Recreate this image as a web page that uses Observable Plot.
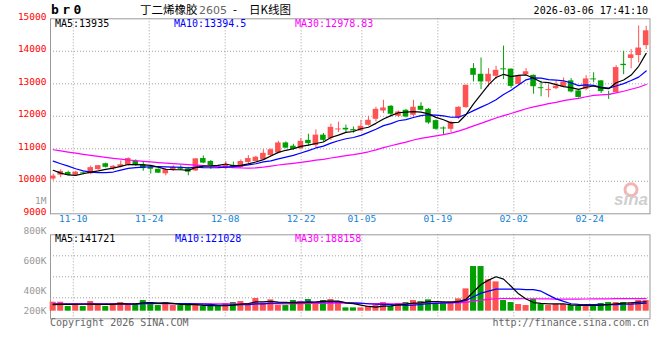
<!DOCTYPE html>
<html><head><meta charset="utf-8">
<script src="https://cdn.jsdelivr.net/npm/d3@7"></script>
<script src="https://cdn.jsdelivr.net/npm/@observablehq/plot@0.6"></script>
<style>
body{margin:0;background:#fff;}
#chart{position:relative;width:660px;height:360px;overflow:hidden;background:#fff;font-family:"DejaVu Sans Mono",monospace;}
#chart svg{position:absolute;left:0;overflow:visible;}
.t{position:absolute;white-space:pre;line-height:1;font-size:10px;}
</style></head><body><div id="chart"></div>
<script>
// ---------- data ----------
const dates = ["11-05","11-06","11-07","11-10","11-11","11-12","11-13","11-14","11-17","11-18","11-19","11-20","11-21","11-24","11-25","11-26","11-27","11-28",
"12-01","12-02","12-03","12-04","12-05","12-08","12-09","12-10","12-11","12-12","12-15","12-16","12-17","12-18","12-19","12-22","12-23","12-24","12-25","12-26","12-29","12-30","12-31",
"01-05","01-06","01-07","01-08","01-09","01-12","01-13","01-14","01-15","01-16","01-19","01-20","01-21","01-22","01-23","01-26","01-27","01-28","01-29","01-30",
"02-02","02-03","02-04","02-05","02-06","02-09","02-10","02-11","02-12","02-13","02-24","02-25","02-26","02-27",
"03-02","03-03","03-04","03-05","03-06"];
const open = [10070,10190,10270,10190,10260,10230,10360,10540,10400,10450,10490,10610,10510,10430,10370,10230,10340,10430,10380,10320,
10700,10610,10470,10400,10490,10420,10580,10610,10660,10790,10870,11180,11080,11000,11260,11100,11420,11320,11580,11630,
11590,11549,11723,11908,12164,12308,12000,12185,12031,12308,12215,11867,11640,11600,11949,12267,13467,13293,13057,13231,
13460,13450,12980,13280,13260,12880,12790,12850,12910,13090,12780,12830,13150,13090,12660,12730,13600,13780,13870,14174];
const high = [10220,10350,10310,10310,10290,10470,10490,10560,10490,10630,10720,10660,10610,10480,10380,10390,10480,10480,10430,10700,
10780,10640,10500,10610,10590,10660,10790,10770,10970,11000,11230,11210,11140,11320,11450,11580,11470,11760,11820,11730,
11670,11877,12000,12277,12492,12330,12164,12215,12492,12420,12236,11887,11672,11846,12290,12960,13621,13796,13467,13539,
14160,13460,13260,13470,13270,13080,12970,13080,13180,13160,12790,13250,13340,13100,12770,13560,14000,14050,14780,14770];
const low = [10010,10110,10170,10160,10200,10200,10340,10410,10330,10410,10470,10460,10310,10220,10240,10170,10310,10330,10170,10300,
10540,10370,10410,10360,10390,10400,10520,10590,10640,10760,10850,11000,10950,10970,11080,11020,11210,11260,11500,11480,
11480,11538,11700,11826,12082,11980,11959,11950,11980,12164,11754,11569,11415,11497,11908,12250,13057,12821,12903,13129,
13130,12860,12950,13250,12680,12600,12570,12820,12880,12720,12560,12790,13030,12700,12520,12720,13280,13460,13640,14051];
const close = [10160,10300,10190,10280,10230,10420,10480,10430,10460,10510,10700,10480,10390,10370,10250,10360,10430,10370,10280,10690,
10560,10470,10440,10500,10420,10610,10700,10740,10860,10970,11180,11020,10980,11230,11160,11420,11260,11660,11610,11580,
11550,11692,11877,12215,12256,12062,12133,11980,12277,12185,11795,11600,11610,11805,12277,12954,13262,13057,13293,13416,
13430,12920,13230,13370,12910,12850,12820,12925,13060,12750,12580,13150,13120,12760,12640,13500,13560,13890,14100,14630];
const ma5 = [10340,10250,10195,10185,10232,10284,10320,10368,10404,10460,10516,10516,10508,10490,10438,10370,10360,10356,10338,10426,
10466,10474,10488,10532,10478,10488,10534,10594,10666,10776,10890,10954,11002,11076,11114,11162,11210,11346,11422,11506,
11532,11618,11662,11783,11918,12020,12109,12129,12142,12127,12074,11967,11893,11799,11817,12049,12382,12671,12969,13196,
13292,13223,13258,13273,13172,13056,13036,12975,12913,12881,12827,12893,12932,12872,12850,13034,13116,13270,13538,13935];
const ma10 = [10620,10540,10465,10385,10320,10285,10268,10265,10285,10346,10400,10418,10438,10447,10449,10443,10438,10432,10414,10432,
10418,10417,10422,10435,10452,10477,10504,10541,10599,10627,10689,10744,10798,10871,10945,11026,11082,11174,11249,11310,
11347,11414,11504,11602,11712,11776,11864,11896,11962,12023,12047,12038,12011,11970,11972,12062,12175,12282,12384,12507,
12670,12802,12964,13121,13184,13174,13130,13116,13093,13027,12942,12965,12954,12893,12866,12931,13005,13101,13205,13394.5];
const ma30 = [10970,10935,10900,10865,10830,10800,10765,10735,10705,10680,10655,10635,10615,10595,10575,10558,10542,10528,10512,10498,
10482,10466,10450,10435,10422,10412,10408,10412,10435,10468,10502,10526,10553,10584,10615,10649,10675,10716,10754,10790,
10818,10858,10908,10969,11036,11093,11150,11204,11270,11320,11361,11399,11438,11481,11543,11621,11707,11784,11865,11947,
12022,12085,12160,12231,12290,12337,12389,12431,12480,12519,12553,12602,12643,12661,12674,12722,12770,12833,12894,12978.83];
// volume, thousands of lots
const volumeK = [135,135,70,110,70,145,110,70,115,130,115,115,160,130,85,130,85,85,115,85,
70,70,70,115,130,145,115,190,120,170,90,85,160,145,175,110,160,175,135,50,
50,50,70,85,130,70,115,130,160,145,170,110,125,140,185,335,670,670,470,440,
160,130,100,85,175,100,85,100,100,85,70,85,100,115,130,130,130,130,160,160];
const volMa5K = [100,102,103,104,104,106,101,101,102,114,108,109,127,130,121,124,118,103,100,100,
88,85,82,82,91,106,115,139,140,148,137,131,125,130,131,135,150,153,151,126,
114,92,71,61,77,81,94,106,121,124,144,143,142,138,146,179,291,400,466,517,
482,374,260,183,130,118,109,109,112,94,88,88,88,91,100,112,121,127,136,141.721];
const volMa10K = [106,106,107,107,108,108,108,108,108,109,107,105,114,116,117.5,116,113.5,115,115,110.5,
106,101.5,92.5,91,95.5,97,100,110.5,111,119.5,121.5,123,132,135,139.5,136,140.5,139,140.5,128.5,
124.5,121,112,106,101.5,97.5,93,88.5,91,100.5,112.5,118.5,124,129.5,135,161.5,217,271,302,331.5,
330.5,332.5,330,324.5,323.5,300,241.5,184.5,147.5,112,103,98.5,98.5,101.5,97,100,104.5,107.5,113.5,121.028];
const volMa30K = [112,112,112,112,112,112,112,112,112,112,112,112,112,112,112,112,112,112,112,112,
112,112,112,112,112,112,112,112,112,113,111.5,109.8,112.8,114,117.5,116.3,118,121.5,122.2,119.5,
117.3,115.2,112.2,110.7,112.2,110.2,111.2,112.7,114.2,116.2,119.5,120.8,122.7,123.5,125.3,131.7,150.2,166.2,177.8,186.8,
189.2,190.7,188.7,186.7,186.7,186.3,183.8,181.3,180.2,181.3,182,183.2,184.2,185.2,185.2,187.2,187.7,187.7,187.7,188.158];

const tickDates = ["11-10","11-24","12-08","12-22","01-05","01-19","02-02","02-24"];
const priceTicks = [9000,10000,11000,12000,13000,14000,15000];
const priceGrid = [10000,11000,12000,13000,14000];
const volGridK = [201,516,831];
const volLabels = ["1M","800K","600K","400K","200K"];
const volLabelAtK = [1660,1200,750,306,10];

const title = {code:"b r 0", name:"丁二烯橡胶", contract:"2605", sep:"-", kind:"日K线图", time:"2026-03-06 17:41:10"};
const legendMain = [["MA5:13935","#000",55],["MA10:13394.5","#0000ff",174],["MA30:12978.83","#ff00ff",295]];
const legendVol = [["MA5:141721","#000",55],["MA10:121028","#0000ff",175],["MA30:188158","#ff00ff",295]];

// ---------- drawing ----------
const RED = "#ff5252", GREEN = "#00a000", GRID = "#a0a0a0", BORDER = "#999";
const idx = d3.range(dates.length);
const col = i => close[i] >= open[i] ? RED : GREEN;
const xDomain = [-0.36, 79.51];                       // candle slots
const slot = 599.5 / (xDomain[1] - xDomain[0]);       // px per candle
const tickIdx = tickDates.map(d => dates.indexOf(d));
// sina places date gridlines on a 79-step grid across the 600px panel
const tickPos = tickIdx.map(i => (i * 600 / 79) / slot + xDomain[0]);
const font = {fontFamily:"DejaVu Sans Mono", fontSize:"9.5px", background:"transparent", overflow:"visible"};

const main = Plot.plot({
  width:660, height:232, marginLeft:50, marginRight:10.5, marginTop:18.3, marginBottom:18.7,
  x:{domain:xDomain, axis:null}, y:{domain:[9000,15000], axis:null},
  style:font,
  marks:[
    Plot.ruleY(priceGrid, {y:d=>d, stroke:GRID, strokeDasharray:"1,2"}),
    Plot.ruleX(tickPos, {x:d=>d, stroke:GRID, strokeDasharray:"1,2"}),
    Plot.frame({stroke:BORDER}),
    Plot.text(priceTicks, {y:d=>d, frameAnchor:"left", textAnchor:"end", dx:-4, dy:-2, fill:"#f00", text:d=>String(d)}),
    Plot.text(tickPos, {x:d=>d, frameAnchor:"bottom", dy:8, fill:"#1282d6", text:(d,i)=>tickDates[i]}),
    Plot.dot([0], {frameAnchor:"bottom-right", dx:-19, dy:-24, r:6, stroke:"#f4b4b4", strokeWidth:3, fill:"none"}),
    Plot.text(["sina"], {frameAnchor:"bottom-right", dx:-2, dy:-9, textAnchor:"end", fill:"#cfcfcf", fontSize:17, fontWeight:"bold", fontStyle:"italic", fontFamily:"Liberation Sans"}),
    Plot.ruleX(idx, {x:d=>d, y1:i=>low[i], y2:i=>high[i], stroke:col}),
    Plot.rect(idx, {x1:i=>i-0.37, x2:i=>i+0.37, y1:i=>open[i], y2:i=>close[i], fill:col}),
    Plot.line(idx, {x:d=>d, y:i=>ma30[i], stroke:"#ff00ff", strokeWidth:1.2}),
    Plot.line(idx, {x:d=>d, y:i=>ma10[i], stroke:"#0000ff", strokeWidth:1.2}),
    Plot.line(idx, {x:d=>d, y:i=>ma5[i], stroke:"#000", strokeWidth:1.2})
  ]
});
main.style.top = "0px";

const vol = Plot.plot({
  width:660, height:170, marginLeft:50, marginRight:10.5, marginTop:44.3, marginBottom:41.7,
  x:{domain:xDomain, axis:null}, y:{domain:[-114,1146], axis:null},
  style:font,
  marks:[
    Plot.ruleY(volGridK, {y:d=>d, stroke:GRID, strokeDasharray:"1,2"}),
    Plot.ruleX(tickPos, {x:d=>d, stroke:GRID, strokeDasharray:"1,2"}),
    Plot.frame({stroke:BORDER}),
    Plot.text(volLabels, {y:(d,i)=>volLabelAtK[i], frameAnchor:"left", textAnchor:"end", dx:-4, fill:"#999", text:d=>d}),
    Plot.rect(idx, {x1:i=>i-0.4, x2:i=>i+0.4, y1:0, y2:i=>volumeK[i], fill:col}),
    Plot.line(idx, {x:d=>d, y:i=>volMa30K[i], stroke:"#ff00ff", strokeWidth:1.2}),
    Plot.line(idx, {x:d=>d, y:i=>volMa10K[i], stroke:"#0000ff", strokeWidth:1.2}),
    Plot.line(idx, {x:d=>d, y:i=>volMa5K[i], stroke:"#000", strokeWidth:1.2})
  ]
});
vol.style.top = "190px";

const chart = document.getElementById("chart");
chart.append(main, vol);

function addText(txt, css){
  const s = document.createElement("div");
  s.className = "t"; s.textContent = txt;
  Object.assign(s.style, css);
  chart.append(s);
}
addText(title.code, {left:"51px", top:"3px", fontSize:"13px", fontWeight:"bold", letterSpacing:"-2.2px"});
addText(title.name, {left:"140px", top:"4px", fontSize:"11.5px", fontFamily:"'Noto Sans CJK SC'"});
addText(title.contract, {left:"199px", top:"4.5px", fontSize:"11px", fontFamily:"'DejaVu Sans'", color:"#666"});
addText(title.sep, {left:"233px", top:"4px", fontSize:"11px", fontFamily:"'DejaVu Sans'"});
addText(title.kind, {left:"249px", top:"4px", fontSize:"11.5px", fontFamily:"'Noto Sans CJK SC'"});
addText(title.time, {right:"12px", top:"6px"});
legendMain.forEach(([t,c,x]) => addText(t, {left:x+"px", top:"18.7px", color:c}));
legendVol.forEach(([t,c,x]) => addText(t, {left:x+"px", top:"233.5px", color:c}));
addText("Copyright 2026 SINA.COM", {left:"50px", top:"318px", color:"#666"});
addText("http://finance.sina.com.cn", {right:"11px", top:"318px", color:"#666"});
</script></body></html>
